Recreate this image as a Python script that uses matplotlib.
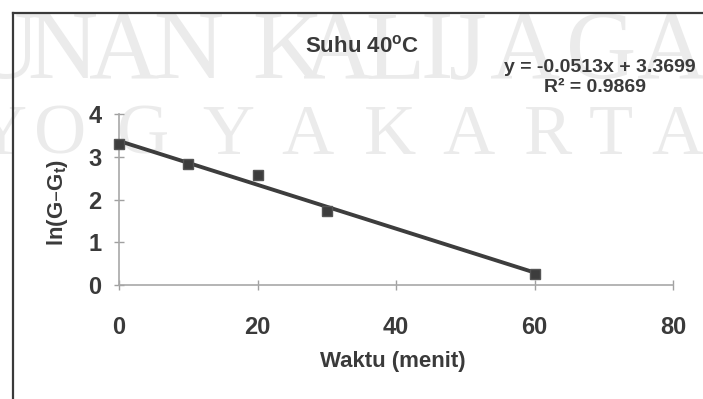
import matplotlib
matplotlib.use("Agg")
import matplotlib.pyplot as plt
from matplotlib.lines import Line2D
import numpy as np

# Measured data: time (minutes) vs ln(G - Gt)
waktu = [0, 10, 20, 30, 60]
ln_g = [3.30, 2.82, 2.58, 1.72, 0.26]

# Linear trendline reported on the chart
slope = -0.0513
intercept = 3.3699
r_squared = 0.9869

x_ticks = [0, 20, 40, 60, 80]
y_ticks = [0, 1, 2, 3, 4]

title = "Suhu 40$^\\mathregular{o}$C"
x_label = "Waktu (menit)"
y_label = "ln(G\u2013G$_\\mathregular{t}$)"
watermark_row1 = "UNANKALIJAGA"
watermark_row2 = "YOGYAKARTA"

plt.rcParams["font.family"] = ["Liberation Sans", "DejaVu Sans"]
plt.rcParams["font.weight"] = "bold"

W, H = 703, 399
fig = plt.figure(figsize=(W / 100, H / 100), dpi=100)
fig.patch.set_facecolor("white")


def fx(px):
    return px / W


def fy(py):
    return 1 - py / H


text_color = "#3a3a3a"
mark_color = "#3d3d3d"
wm_color = "#ebebeb"

# Background watermark lettering
row1_x = [5, 62, 124, 188, 287, 338, 395, 437, 468, 525, 601, 672]
for ch, cx in zip(watermark_row1, row1_x):
    fig.text(fx(cx), fy(78), ch, family="Liberation Serif", weight="normal",
             fontsize=70, color=wm_color, ha="center", va="baseline", zorder=0)
row2_x = [0, 60, 143, 228, 307, 390, 468, 548, 611, 677]
for ch, cx in zip(watermark_row2, row2_x):
    fig.text(fx(cx), fy(154), ch, family="Liberation Serif", weight="normal",
             fontsize=52, color=wm_color, ha="center", va="baseline", zorder=0)

# Chart frame (top and left edges)
fig.add_artist(Line2D([fx(13), 1.0], [fy(12.5), fy(12.5)], transform=fig.transFigure,
                      color="#3a3a3a", lw=1.6, zorder=1))
fig.add_artist(Line2D([fx(13), fx(13)], [fy(12.5), 0.0], transform=fig.transFigure,
                      color="#3a3a3a", lw=1.6, zorder=1))

# Plot area
ax = fig.add_axes([fx(119), fy(285), fx(673) - fx(119), (285 - 114) / H])
ax.set_zorder(2)
ax.set_facecolor("none")
ax.set_xlim(0, 80)
ax.set_ylim(0, 4)
ax.set_xticks(x_ticks)
ax.set_yticks(y_ticks)
for side in ("top", "right"):
    ax.spines[side].set_visible(False)
for side in ("left", "bottom"):
    ax.spines[side].set_color("#a8a8a8")
    ax.spines[side].set_linewidth(1.2)
ax.tick_params(direction="inout", length=7, width=1, color="#a0a0a0",
               labelsize=17, labelcolor=text_color)
ax.tick_params(axis="x", pad=19)
ax.tick_params(axis="y", pad=9)

# Trendline from the fitted equation, then the measured points
xs = np.array([min(waktu), max(waktu)], dtype=float)
ax.plot(xs, slope * xs + intercept, color=mark_color, lw=2.8,
        solid_capstyle="butt", zorder=3)
ax.plot(waktu, ln_g, "s", ms=7.5, color=mark_color, mec="#555555",
        mew=1, zorder=4, clip_on=False)

# Titles and annotations
fig.text(fx(362), fy(46), title, ha="center", va="center", fontsize=16,
         color=text_color, zorder=5)
fig.text(fx(600), fy(68), f"y = {slope:.4f}x + {intercept:.4f}", ha="center",
         va="center", fontsize=14, color=text_color, zorder=5)
fig.text(fx(595), fy(87), f"R\u00b2 = {r_squared:.4f}", ha="center",
         va="center", fontsize=14, color=text_color, zorder=5)
fig.text(fx(393), fy(362), x_label, ha="center", va="center", fontsize=16,
         color=text_color, zorder=5)
fig.text(fx(58), fy(202), y_label, ha="center", va="center", rotation=90,
         fontsize=16, color=text_color, zorder=5)

fig.savefig("out.png", dpi=100, facecolor="white")
